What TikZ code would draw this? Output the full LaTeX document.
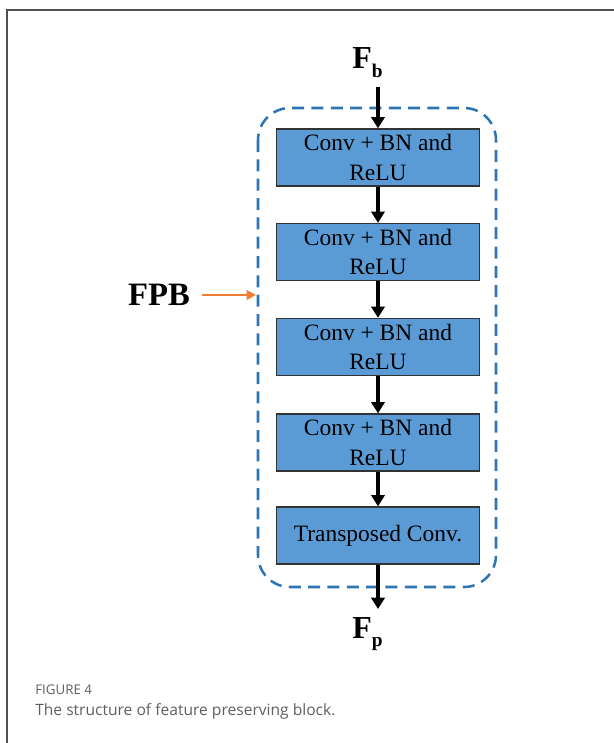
\documentclass[tikz,border=0pt]{standalone}
\usepackage{fontspec}
\setmainfont{Liberation Serif}
\newfontfamily\capfont{Open Sans}
\usetikzlibrary{arrows.meta}
\definecolor{boxblue}{RGB}{91,155,213}
\definecolor{dashblue}{RGB}{46,117,182}
\definecolor{fpborange}{RGB}{237,125,49}
\definecolor{capgrey}{RGB}{95,95,95}
\definecolor{framegrey}{RGB}{80,80,80}
\tikzset{
  blk/.style={draw=black!80, line width=1pt, fill=boxblue, minimum width=203*0.75pt, minimum height=57*0.75pt, inner sep=0pt, align=center, font=\fontsize{17.6}{21.8}\selectfont},
  flow/.style={line width=2.5pt, -{Triangle[width=10pt,length=8.5pt]}},
  lbl/.style={inner sep=0pt, font=\fontsize{24}{26}\selectfont\bfseries},
}
\begin{document}
\begin{tikzpicture}[x=0.75pt, y=-0.75pt]
\useasboundingbox (0,0) rectangle (614,743);
% frame
\draw[framegrey, line width=1.6pt] (7,743) -- (7,10) -- (614,10);
% dashed region
\draw[dashblue, line width=1.9pt, dash pattern=on 9pt off 5.5pt, rounded corners=24pt] (258,108) rectangle (496,587);
% boxes
\node[blk] (b1) at (378,157.5) {Conv + BN and\\ReLU};
\node[blk] (b2) at (378,252) {Conv + BN and\\ReLU};
\node[blk] (b3) at (378,347) {Conv + BN and\\ReLU};
\node[blk] (b4) at (378,442.5) {Conv + BN and\\ReLU};
\node[blk] (b5) at (378,535.5) {Transposed Conv.};
% labels
\node[lbl, anchor=base west] (fb) at (352,68) {F\raisebox{-7pt}{\fontsize{14.5}{14}\selectfont b}};
\coordinate (fbend) at (378,87);
\node[lbl, anchor=base west] (fp) at (352,638) {F\raisebox{-6pt}{\fontsize{14.5}{14}\selectfont p}};
\coordinate (fpend) at (378,609);
\node[inner sep=0pt, font=\fontsize{24.5}{26}\selectfont\bfseries, anchor=base] (fpb) at (159,305) {FPB};
\coordinate (fpbtip) at (256,295);
\coordinate (fpbstart) at (202,295);
% arrows
\draw[flow] (fbend) -- (b1.north);
\draw[flow] (b1) -- (b2);
\draw[flow] (b2) -- (b3);
\draw[flow] (b3) -- (b4);
\draw[flow] (b4) -- (b5);
\draw[flow] (b5.south) -- (fpend);
\draw[fpborange, line width=1.6pt, -{Triangle[width=7pt,length=7pt]}] (fpbstart) -- (fpbtip);
% caption
\node[anchor=base west, inner sep=0pt, text=capgrey, font=\capfont\fontsize{10}{11}\selectfont] (cap1) at (35,694) {FIGURE 4};
\node[anchor=base west, inner sep=0pt, text=capgrey, font=\capfont\fontsize{11.7}{14}\selectfont] (cap2) at (35,715) {The structure of feature preserving block.};
\end{tikzpicture}
\end{document}
